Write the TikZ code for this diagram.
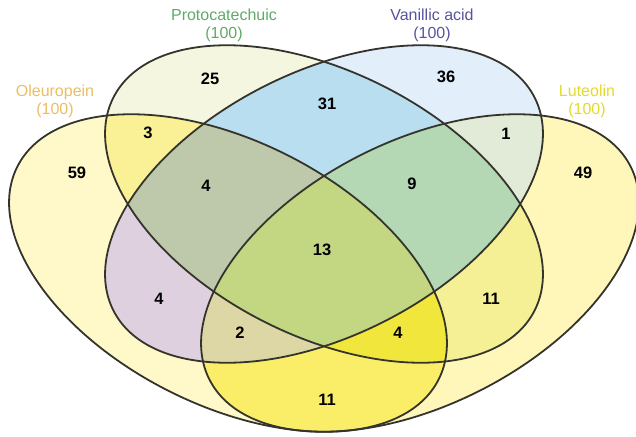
\documentclass[tikz,border=0pt]{standalone}
\usepackage{fontspec}
\setmainfont{Liberation Sans}

% label colours
\definecolor{oleucol}{RGB}{234,190,98}
\definecolor{protocol}{RGB}{96,170,104}
\definecolor{vanicol}{RGB}{86,84,160}
\definecolor{luteocol}{RGB}{228,218,40}
\definecolor{edgecol}{RGB}{52,52,44}

% region colours (O = Oleuropein, P = Protocatechuic, V = Vanillic acid, L = Luteolin)
\definecolor{fO}{RGB}{255,248,200}
\definecolor{fP}{RGB}{244,246,224}
\definecolor{fV}{RGB}{226,238,250}
\definecolor{fL}{RGB}{255,247,185}
\definecolor{fOP}{RGB}{250,240,150}
\definecolor{fOV}{RGB}{222,208,222}
\definecolor{fOL}{RGB}{250,238,104}
\definecolor{fPV}{RGB}{185,222,240}
\definecolor{fPL}{RGB}{245,240,150}
\definecolor{fVL}{RGB}{225,235,215}
\definecolor{fOPV}{RGB}{190,200,170}
\definecolor{fOPL}{RGB}{240,230,60}
\definecolor{fOVL}{RGB}{220,215,165}
\definecolor{fPVL}{RGB}{180,215,180}
\definecolor{fOPVL}{RGB}{195,215,130}

% the four sets
\newcommand{\ellOleu}{(228,273) ellipse [x radius=236, y radius=132, rotate=-26.8]}
\newcommand{\ellProto}{(324,204) ellipse [x radius=236, y radius=132, rotate=-26.8]}
\newcommand{\ellVanil}{(324,204) ellipse [x radius=236, y radius=132, rotate=26.8]}
\newcommand{\ellLuteo}{(420,273) ellipse [x radius=236, y radius=132, rotate=26.8]}

\begin{document}
\begin{tikzpicture}[x=1pt,y=-1pt,
	lbl/.style={align=center, font=\fontsize{16}{18}\selectfont},
	num/.style={font=\fontsize{16.5}{18}\selectfont\bfseries}]
	\useasboundingbox (0,0) rectangle (636,436);

	% single sets
	\fill[fO] \ellOleu;
	\fill[fL] \ellLuteo;
	\fill[fP] \ellProto;
	\fill[fV] \ellVanil;

	% pairs
	\begin{scope} \clip \ellOleu; \fill[fOP] \ellProto; \end{scope}
	\begin{scope} \clip \ellOleu; \fill[fOV] \ellVanil; \end{scope}
	\begin{scope} \clip \ellOleu; \fill[fOL] \ellLuteo; \end{scope}
	\begin{scope} \clip \ellProto; \fill[fPV] \ellVanil; \end{scope}
	\begin{scope} \clip \ellProto; \fill[fPL] \ellLuteo; \end{scope}
	\begin{scope} \clip \ellVanil; \fill[fVL] \ellLuteo; \end{scope}

	% triples
	\begin{scope} \clip \ellOleu; \clip \ellProto; \fill[fOPV] \ellVanil; \end{scope}
	\begin{scope} \clip \ellOleu; \clip \ellProto; \fill[fOPL] \ellLuteo; \end{scope}
	\begin{scope} \clip \ellOleu; \clip \ellVanil; \fill[fOVL] \ellLuteo; \end{scope}
	\begin{scope} \clip \ellProto; \clip \ellVanil; \fill[fPVL] \ellLuteo; \end{scope}

	% all four
	\begin{scope} \clip \ellOleu; \clip \ellProto; \clip \ellVanil; \fill[fOPVL] \ellLuteo; \end{scope}

	% outlines
	\draw[edgecol, line width=1.8pt] \ellOleu;
	\draw[edgecol, line width=1.8pt] \ellProto;
	\draw[edgecol, line width=1.8pt] \ellVanil;
	\draw[edgecol, line width=1.8pt] \ellLuteo;

	% set names
	\node[lbl, text=protocol] (lblProto) at (224,25) {Protocatechuic\\(100)};
	\node[lbl, text=vanicol] (lblVanil) at (432,25) {Vanillic acid\\(100)};
	\node[lbl, text=oleucol] (lblOleu) at (55,101) {Oleuropein\\(100)};
	\node[lbl, text=luteocol] (lblLuteo) at (587,101) {Luteolin\\(100)};

	% counts
	\node[num] (nP) at (210,79) {25};
	\node[num] (nV) at (446,77) {36};
	\node[num] (nOP) at (148,133) {3};
	\node[num] (nPV) at (327,104) {31};
	\node[num] (nVL) at (506,134) {1};
	\node[num] (nO) at (77,173) {59};
	\node[num] (nL) at (583,173) {49};
	\node[num] (nOPV) at (206,186) {4};
	\node[num] (nPVL) at (412,184) {9};
	\node[num] (nOPVL) at (322,250) {13};
	\node[num] (nOV) at (159,299) {4};
	\node[num] (nPL) at (491,299) {11};
	\node[num] (nOVL) at (240,333) {2};
	\node[num] (nOPL) at (398,333) {4};
	\node[num] (nOL) at (327,400) {11};
\end{tikzpicture}
\end{document}
